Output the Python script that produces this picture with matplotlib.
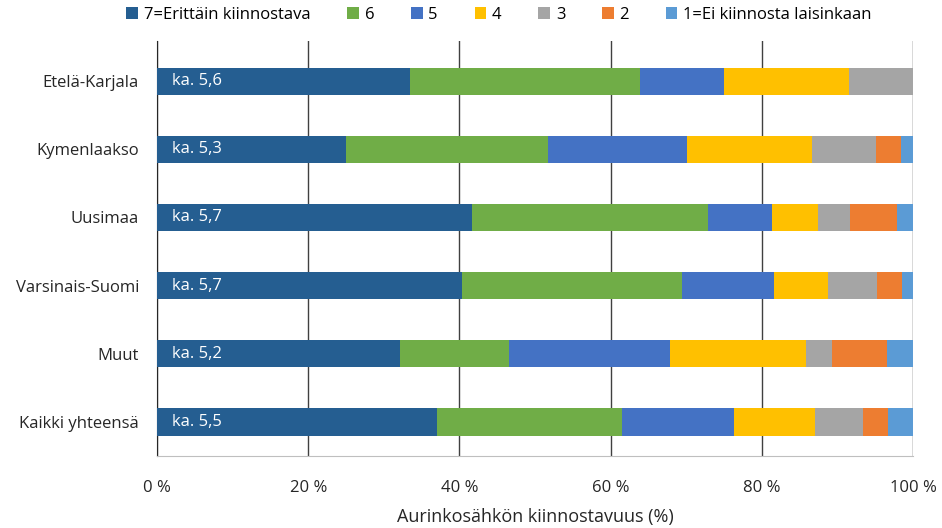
import numpy as np
import matplotlib.pyplot as plt
from matplotlib import font_manager

# font: Calibri-ish look, fall back if the narrow one is missing
names = {f.name for f in font_manager.fontManager.ttflist}
fam = "Liberation Sans Narrow" if "Liberation Sans Narrow" in names else "Open Sans"
plt.rcParams["font.family"] = [fam, "DejaVu Sans"]

regions = ["Etelä-Karjala", "Kymenlaakso", "Uusimaa", "Varsinais-Suomi", "Muut", "Kaikki yhteensä"]
averages = ["ka. 5,6", "ka. 5,3", "ka. 5,7", "ka. 5,7", "ka. 5,2", "ka. 5,5"]

# share (%) of each answer per region
s7 = [33.4, 25.0, 41.7, 40.3, 32.1, 37.0]
s6 = [30.5, 26.7, 31.2, 29.1, 14.4, 24.5]
s5 = [11.1, 18.4, 8.4, 12.2, 21.3, 14.8]
s4 = [16.6, 16.6, 6.1, 7.1, 18.0, 10.7]
s3 = [8.4, 8.4, 4.3, 6.6, 3.5, 6.4]
s2 = [0.0, 3.3, 6.2, 3.2, 7.2, 3.3]
s1 = [0.0, 1.6, 2.1, 1.5, 3.5, 3.3]

series = [s7, s6, s5, s4, s3, s2, s1]
labels = ["7=Erittäin kiinnostava", "6", "5", "4", "3", "2", "1=Ei kiinnosta laisinkaan"]
colors = ["#255E91", "#70AD47", "#4472C4", "#FFC000", "#A5A5A5", "#ED7D31", "#5B9BD5"]

fig = plt.figure(figsize=(9.42, 5.28), dpi=100)
ax = fig.add_axes([157 / 942, 1 - 456 / 528, 756 / 942, 415 / 528])

y = np.arange(len(regions))
left = np.zeros(len(regions))
for vals, lab, col in zip(series, labels, colors):
    vals = np.array(vals)
    ax.barh(y, vals, left=left, height=0.4, color=col, label=lab, zorder=3)
    left += vals

for yi, txt in zip(y, averages):
    ax.text(2, yi, txt, color="white", fontsize=12, va="center", ha="left", zorder=4)

ax.set_xlim(0, 100)
ax.set_ylim(len(regions) - 0.5, -0.59)
ax.set_yticks(y)
ax.set_yticklabels(regions, fontsize=12, color="#262626")
ax.set_xticks(np.arange(0, 101, 20))
ax.set_xticklabels([f"{v} %" for v in range(0, 101, 20)], fontsize=12, color="#262626")
ax.tick_params(axis="y", length=0, pad=13)
ax.tick_params(axis="x", length=0, pad=17)
ax.xaxis.grid(True, color="#404040", linewidth=1, zorder=0)
for s in ["top", "right"]:
    ax.spines[s].set_visible(False)
ax.spines["left"].set_color("#262626")
ax.spines["bottom"].set_color("#BFBFBF")
ax.set_xlabel("Aurinkosähkön kiinnostavuus (%)", fontsize=13, color="#262626", labelpad=9)

ax.legend(loc="center", bbox_to_anchor=(499 / 942, 1 - 15 / 528), bbox_transform=fig.transFigure,
          ncol=7, frameon=False, fontsize=12, handlelength=0.7, handleheight=0.7,
          handletextpad=0.35, columnspacing=2.2)

fig.savefig("out.png", dpi=100)
